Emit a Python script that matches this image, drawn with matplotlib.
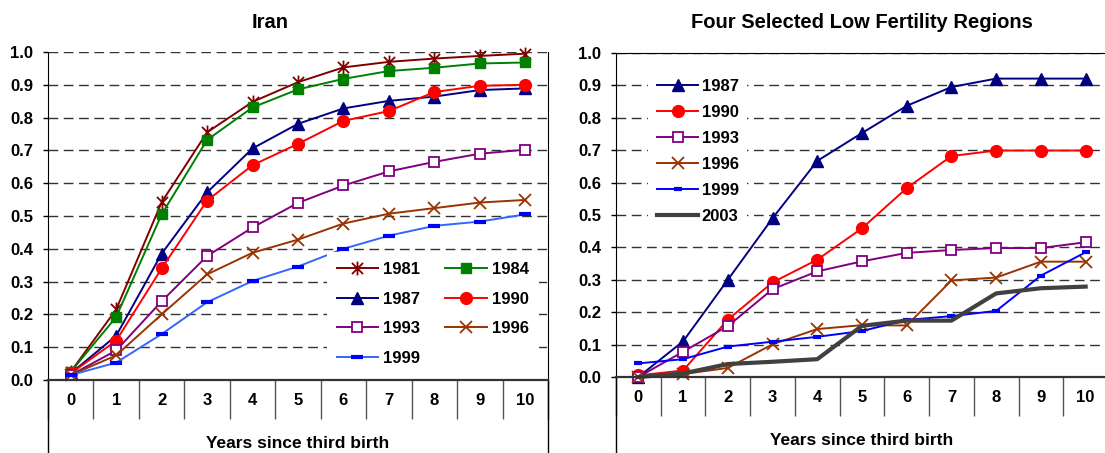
import matplotlib.pyplot as plt
import numpy as np
from matplotlib.path import Path

plt.rcParams['font.family'] = ['Liberation Sans', 'DejaVu Sans']
plt.rcParams['font.weight'] = 'bold'

# Data
years = np.arange(0, 11)
year_labels = [str(y) for y in years]

iran_1981 = [0.025, 0.215, 0.542, 0.755, 0.848, 0.908, 0.953, 0.970, 0.980, 0.988, 0.995]
iran_1984 = [0.025, 0.192, 0.505, 0.732, 0.831, 0.886, 0.918, 0.942, 0.952, 0.965, 0.968]
iran_1987 = [0.020, 0.135, 0.385, 0.572, 0.706, 0.781, 0.828, 0.851, 0.864, 0.884, 0.889]
iran_1990 = [0.020, 0.120, 0.340, 0.547, 0.655, 0.720, 0.790, 0.820, 0.878, 0.897, 0.900]
iran_1993 = [0.015, 0.090, 0.240, 0.378, 0.465, 0.540, 0.593, 0.636, 0.665, 0.690, 0.702]
iran_1996 = [0.015, 0.075, 0.200, 0.322, 0.388, 0.428, 0.477, 0.507, 0.524, 0.541, 0.549]
iran_1999 = [0.015, 0.053, 0.140, 0.237, 0.302, 0.346, 0.400, 0.440, 0.470, 0.483, 0.505]

reg_1987 = [0.000, 0.110, 0.300, 0.490, 0.667, 0.753, 0.837, 0.895, 0.921, 0.921, 0.921]
reg_1990 = [0.005, 0.020, 0.177, 0.292, 0.362, 0.459, 0.583, 0.682, 0.699, 0.699, 0.699]
reg_1993 = [0.000, 0.078, 0.157, 0.271, 0.326, 0.357, 0.383, 0.392, 0.398, 0.398, 0.416]
reg_1996 = [0.000, 0.009, 0.028, 0.101, 0.148, 0.160, 0.159, 0.298, 0.307, 0.356, 0.356]
reg_1999 = [0.042, 0.055, 0.094, 0.109, 0.124, 0.142, 0.176, 0.188, 0.204, 0.313, 0.385]
reg_2003 = [0.000, 0.011, 0.040, 0.047, 0.055, 0.158, 0.174, 0.174, 0.258, 0.274, 0.279]

yticks = np.arange(0, 1.01, 0.1)

# Excel style star marker: an X with a vertical bar
star = Path([(-1, -1), (1, 1), (-1, 1), (1, -1), (0, -1.25), (0, 1.25)],
            [Path.MOVETO, Path.LINETO] * 3)


def style_axes(ax, ext):
    ax.set_xlim(-0.5, 10.5)
    ax.set_ylim(0, 1.0)
    ax.set_yticks(yticks)
    ax.set_yticklabels([f'{v:.1f}' for v in yticks])
    ax.tick_params(axis='y', direction='out', length=3.6, width=1, pad=7, labelsize=12)
    ax.yaxis.grid(True, linestyle=(0, (7, 4)), color='#333333', linewidth=1)
    ax.set_axisbelow(True)

    # category separators below the axis, labels in between
    ax.set_xticks(np.arange(-0.5, 11, 1))
    ax.set_xticklabels([])
    ax.set_xticks(years, minor=True)
    ax.set_xticklabels(year_labels, minor=True)
    ax.tick_params(axis='x', which='major', direction='out', length=28, width=1, color='#555555')
    ax.tick_params(axis='x', which='minor', length=0, pad=9.5, labelsize=12)

    ax.spines['bottom'].set_linewidth(1.6)
    ax.spines['bottom'].set_color('#333333')
    ax.spines['left'].set_color('black')
    ax.set_xlabel('Years since third birth', fontsize=12.5, fontweight='bold', labelpad=ext[1])

    # plot area border goes down past the axis
    ax.plot([0, 0], [0, -ext[0]], transform=ax.transAxes, color='black', lw=1, clip_on=False)


fig = plt.figure(figsize=(11.05, 4.53), dpi=100)

# Iran panel
ax1 = fig.add_axes([48 / 1105, 73 / 453, 500 / 1105, 328 / 453])
style_axes(ax1, (0.22, 9))
ax1.spines['top'].set_visible(False)
ax1.plot([1, 1], [0, -0.22], transform=ax1.transAxes, color='black', lw=1, clip_on=False)

h1981, = ax1.plot(years, iran_1981, color='#800000', marker=star, ms=10, mew=1.3, mfc='none', lw=1.4, label='1981', clip_on=False)
h1984, = ax1.plot(years, iran_1984, color='#008000', marker='s', ms=7.5, lw=1.4, label='1984', clip_on=False)
h1987, = ax1.plot(years, iran_1987, color='#000080', marker='^', ms=8.5, lw=1.4, label='1987', clip_on=False)
h1990, = ax1.plot(years, iran_1990, color='#FF0000', marker='o', ms=8.5, lw=1.4, label='1990', clip_on=False)
h1993, = ax1.plot(years, iran_1993, color='#800080', marker='s', ms=7.5, mfc='white', mew=1.3, lw=1.4, label='1993', clip_on=False)
h1996, = ax1.plot(years, iran_1996, color='#993300', marker='x', ms=9, mew=1.3, lw=1.4, label='1996', clip_on=False)
h1999, = ax1.plot(years, iran_1999, color='#3366FF', marker='_', ms=8, mew=3, mec='#0000FF', lw=1.4, label='1999', clip_on=False)

ax1.set_title('Iran', fontsize=14.5, fontweight='bold', pad=17, x=0.444)

# legend in row order: 1981 1984 / 1987 1990 / 1993 1996 / 1999
leg1 = ax1.legend([h1981, h1987, h1993, h1999, h1984, h1990, h1996],
                  ['1981', '1987', '1993', '1999', '1984', '1990', '1996'],
                  ncol=2, loc='upper left', bbox_to_anchor=(0.557, 0.39), borderaxespad=0,
                  fontsize=12, handlelength=2.5, handletextpad=0.3, columnspacing=1.5,
                  labelspacing=0.87, borderpad=0.6, numpoints=1,
                  frameon=True, facecolor='white', edgecolor='none', framealpha=1, fancybox=False)

# Four regions panel
ax2 = fig.add_axes([616 / 1105, 76 / 453, 492 / 1105, 324 / 453])
style_axes(ax2, (0.23, 9))
ax2.spines['top'].set_color('black')

ax2.plot(years, reg_1987, color='#000080', marker='^', ms=8.5, lw=1.4, label='1987', clip_on=False)
ax2.plot(years, reg_1990, color='#FF0000', marker='o', ms=8.5, lw=1.4, label='1990', clip_on=False)
ax2.plot(years, reg_1993, color='#800080', marker='s', ms=7.5, mfc='white', mew=1.3, lw=1.4, label='1993', clip_on=False)
ax2.plot(years, reg_1996, color='#993300', marker='x', ms=9, mew=1.3, lw=1.4, label='1996', clip_on=False)
ax2.plot(years, reg_1999, color='#0000FF', marker='_', ms=6, mew=3, lw=1.4, label='1999', clip_on=False)
ax2.plot(years, reg_2003, color='#404040', lw=3, label='2003', clip_on=False)

ax2.set_title('Four Selected Low Fertility Regions', fontsize=14.5, fontweight='bold', pad=18)

ax2.legend(loc='upper left', bbox_to_anchor=(0.066, 0.945), borderaxespad=0,
           fontsize=12, handlelength=2.5, handletextpad=0.2, labelspacing=0.66,
           borderpad=0.5, numpoints=1,
           frameon=True, facecolor='white', edgecolor='none', framealpha=1, fancybox=False)

plt.savefig('out.png', dpi=100)
